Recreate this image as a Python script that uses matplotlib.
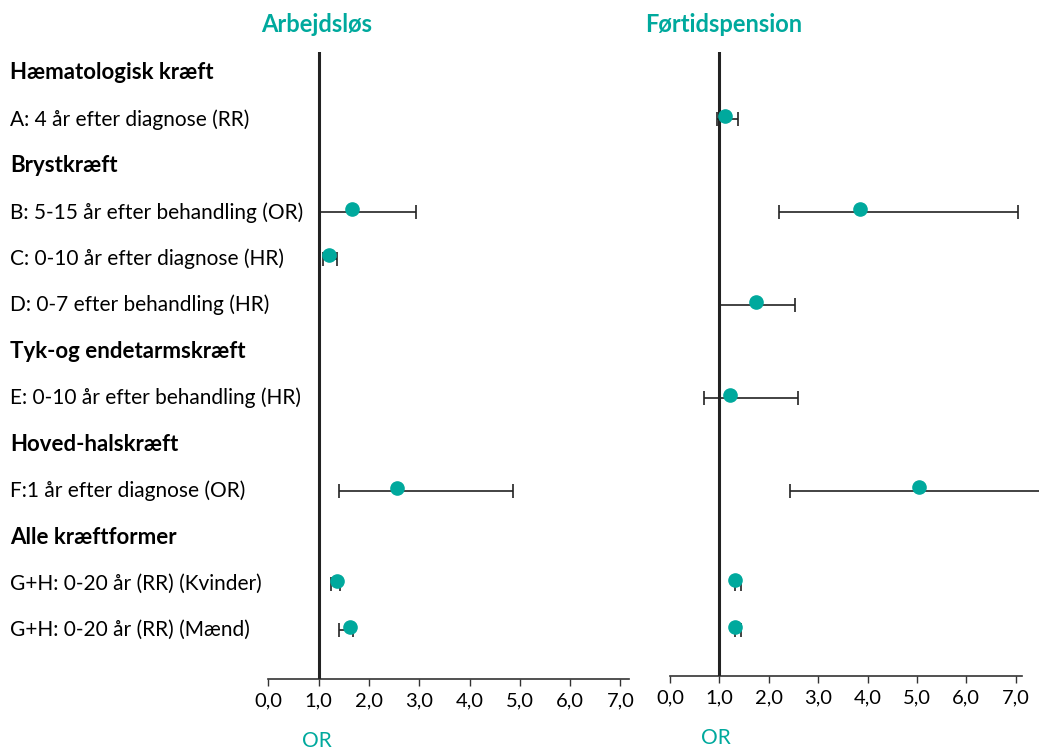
import matplotlib.pyplot as plt
from matplotlib.transforms import blended_transform_factory

# rækker (ovenfra og ned) - overskrifter er fed
rows = ['Hæmatologisk kræft', 'A: 4 år efter diagnose (RR)', 'Brystkræft',
        'B: 5-15 år efter behandling (OR)', 'C: 0-10 år efter diagnose (HR)',
        'D: 0-7 efter behandling (HR)', 'Tyk-og endetarmskræft',
        'E: 0-10 år efter behandling (HR)', 'Hoved-halskræft',
        'F:1 år efter diagnose (OR)', 'Alle kræftformer',
        'G+H: 0-20 år (RR) (Kvinder)', 'G+H: 0-20 år (RR) (Mænd)']
headers = [0, 2, 6, 8, 10]

# Arbejdsløs: række, estimat, nedre, øvre
arb_rows = [3, 4, 9, 11, 12]
arb_est = [1.67, 1.20, 2.56, 1.36, 1.62]
arb_lo = [1.00, 1.09, 1.41, 1.25, 1.41]
arb_hi = [2.93, 1.36, 4.86, 1.42, 1.68]

# Førtidspension
fort_rows = [1, 3, 5, 7, 9, 11, 12]
fort_est = [1.11, 3.84, 1.74, 1.21, 5.05, 1.32, 1.32]
fort_lo = [0.96, 2.21, 1.00, 0.69, 2.43, 1.31, 1.32]
fort_hi = [1.37, 7.04, 2.54, 2.59, 7.60, 1.43, 1.43]

ticks = [0, 1, 2, 3, 4, 5, 6, 7]
tick_labels = ['0,0', '1,0', '2,0', '3,0', '4,0', '5,0', '6,0', '7,0']

teal = '#00A99D'
dark = '#222222'
plt.rcParams['font.family'] = ['Lato', 'DejaVu Sans']

W, H = 1039, 751
fig = plt.figure(figsize=(W / 100, H / 100), dpi=100)
ax1 = fig.add_axes([0.2584, 0.0959, 0.3470, 0.8349])
ax2 = fig.add_axes([0.6449, 0.0999, 0.3388, 0.8309])


def panel(ax, r, est, lo, hi, xmax, ybot):
    for y, e, l, h in zip(r, est, lo, hi):
        ax.errorbar(e, y, xerr=[[e - l], [h - e]], fmt='none', ecolor=dark,
                    elinewidth=1.2, capsize=5, capthick=1.2, clip_on=False, zorder=2)
        ax.plot(e, y - 0.07, 'o', color=teal, ms=9.5, zorder=4, clip_on=False)
    ax.axvline(1, color=dark, lw=2.2, zorder=3)
    ax.set_xlim(0, xmax)
    ax.set_ylim(ybot, -0.45)
    for s in ['top', 'right', 'left']:
        ax.spines[s].set_visible(False)
    ax.spines['bottom'].set_color('#333333')
    ax.spines['bottom'].set_linewidth(1.2)
    ax.set_yticks([])
    ax.set_xticks(ticks)
    ax.set_xticklabels(tick_labels, fontsize=14.5)
    ax.tick_params(axis='x', direction='out', length=5, width=1, color='#333333', pad=5)


panel(ax1, arb_rows, arb_est, arb_lo, arb_hi, 7.17, 13.05)
panel(ax2, fort_rows, fort_est, fort_lo, fort_hi, 7.13, 12.99)

# titler og aksetekster
fig.text(317 / W, 1 - 25 / H, 'Arbejdsløs', color=teal, fontsize=17, fontweight='bold',
         ha='center', va='center')
fig.text(724 / W, 1 - 25 / H, 'Førtidspension', color=teal, fontsize=17, fontweight='bold',
         ha='center', va='center')
fig.text(317 / W, 1 - 741 / H, 'OR', color=teal, fontsize=15, ha='center', va='center')
fig.text(716 / W, 1 - 738 / H, 'OR', color=teal, fontsize=15, ha='center', va='center')

# rækketekster til venstre
tr = blended_transform_factory(fig.transFigure, ax1.transData)
for i, txt in enumerate(rows):
    bold = i in headers
    ax1.text(10 / W, i, txt, transform=tr, ha='left', va='center',
             fontsize=16 if bold else 15, fontweight='bold' if bold else 'normal',
             color='black')

fig.savefig('out.png', dpi=100)
